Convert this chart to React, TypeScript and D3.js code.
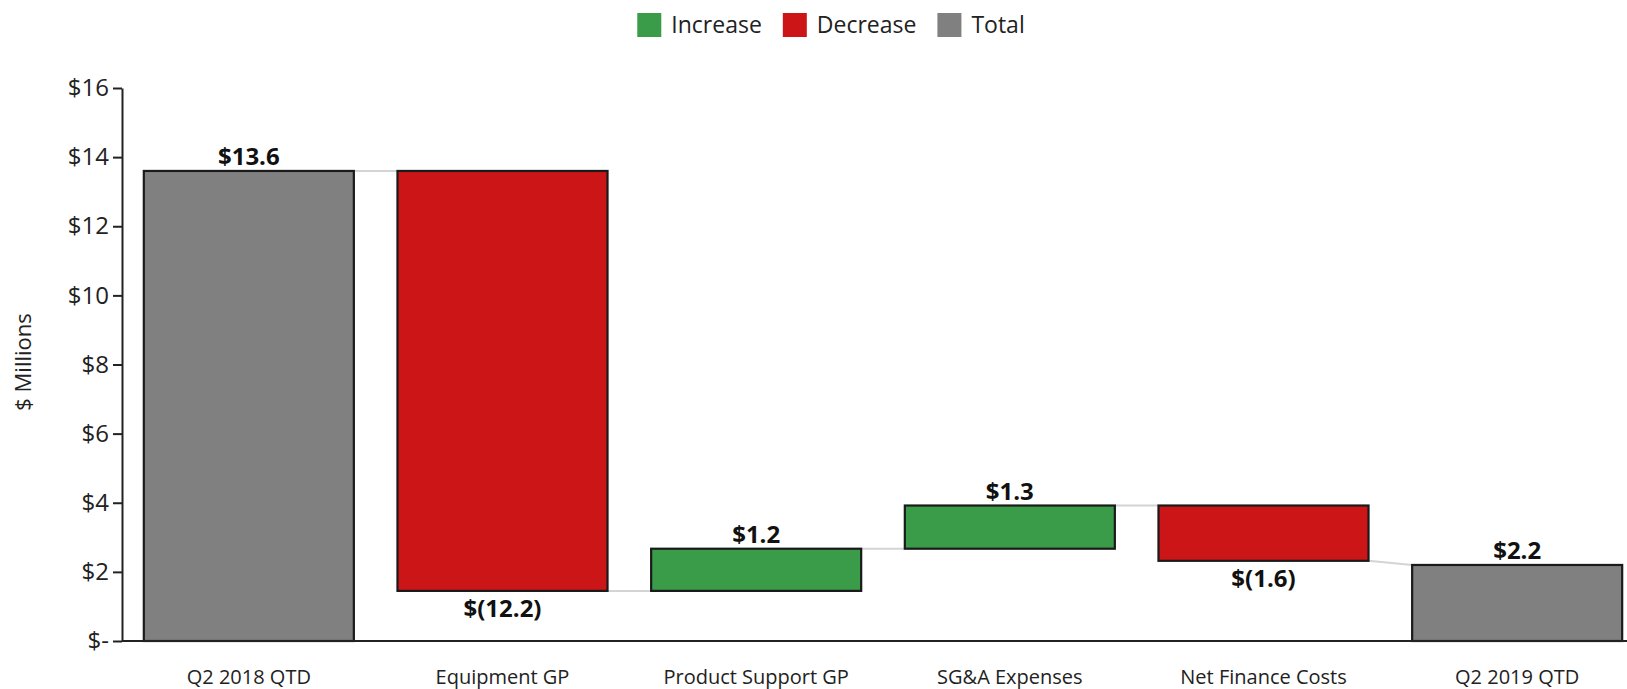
import React, { useEffect, useRef } from "react";
import * as d3 from "d3";

const categories = [
  "Q2 2018 QTD",
  "Equipment GP",
  "Product Support GP",
  "SG&A Expenses",
  "Net Finance Costs",
  "Q2 2019 QTD",
];
const values = [13.6, -12.15, 1.22, 1.25, -1.6, 2.2];
const kinds = ["total", "decrease", "increase", "increase", "decrease", "total"];
const valueLabels = ["$13.6", "$(12.2)", "$1.2", "$1.3", "$(1.6)", "$2.2"];
const yTicks = [0, 2, 4, 6, 8, 10, 12, 14, 16];
const legendNames = ["Increase", "Decrease", "Total"];
const legendKinds = ["increase", "decrease", "total"];

const colors: Record<string, string> = {
  increase: "#3a9c48",
  decrease: "#cc1517",
  total: "#808080",
};

const W = 1627;
const H = 689;
const FONT = "'Open Sans', 'DejaVu Sans', sans-serif";

export default function App() {
  const ref = useRef<SVGSVGElement | null>(null);

  useEffect(() => {
    const svg = d3.select(ref.current);
    svg.selectAll("*").remove();

    const left = 122;
    const top = 88;
    const bottom = 641;

    const x = d3
      .scaleBand<string>()
      .domain(categories)
      .range([left, 1644])
      .paddingInner(0.172)
      .paddingOuter(0.086);
    const y = d3.scaleLinear().domain([0, 16]).range([bottom, top]);

    let running = 0;
    const bars = categories.map((c, i) => {
      let start: number, end: number;
      if (kinds[i] === "total") {
        start = 0;
        end = values[i];
        running = values[i];
      } else {
        start = running;
        end = running + values[i];
        running = end;
      }
      return { c, i, start, end, kind: kinds[i], label: valueLabels[i] };
    });

    // connectors
    const conn = svg.append("g");
    for (let i = 0; i < bars.length - 1; i++) {
      const b = bars[i];
      const n = bars[i + 1];
      const nextLevel = n.kind === "total" ? n.end : n.start;
      conn
        .append("line")
        .attr("x1", (x(b.c) as number) + x.bandwidth())
        .attr("x2", x(n.c) as number)
        .attr("y1", y(b.end))
        .attr("y2", y(nextLevel))
        .attr("stroke", "#d4d4d4")
        .attr("stroke-width", 2);
    }

    // bars
    svg
      .append("g")
      .selectAll("rect")
      .data(bars)
      .join("rect")
      .attr("x", (d) => x(d.c) as number)
      .attr("width", x.bandwidth())
      .attr("y", (d) => y(Math.max(d.start, d.end)))
      .attr("height", (d) => Math.abs(y(d.start) - y(d.end)))
      .attr("fill", (d) => colors[d.kind])
      .attr("stroke", "#1a1a1a")
      .attr("stroke-width", 2.2);

    // value labels
    svg
      .append("g")
      .selectAll("text")
      .data(bars)
      .join("text")
      .attr("x", (d) => (x(d.c) as number) + x.bandwidth() / 2)
      .attr("y", (d) =>
        d.kind === "decrease" ? y(Math.min(d.start, d.end)) + 26 : y(Math.max(d.start, d.end)) - 6
      )
      .attr("text-anchor", "middle")
      .attr("font-family", FONT)
      .attr("font-weight", 700)
      .attr("font-size", 24)
      .attr("fill", "#111")
      .text((d) => d.label);

    // y axis
    const yAxis = d3
      .axisLeft(y)
      .tickValues(yTicks)
      .tickFormat((d) => (d === 0 ? "$-" : "$" + d))
      .tickSize(9)
      .tickSizeOuter(0)
      .tickPadding(4);
    const ya = svg.append("g").attr("transform", `translate(${left},0)`).call(yAxis);
    ya.select(".domain").attr("stroke", "#222").attr("stroke-width", 2);
    ya.selectAll(".tick line").attr("stroke", "#222").attr("stroke-width", 2);
    ya.selectAll(".tick text")
      .attr("font-family", FONT)
      .attr("font-size", 24)
      .attr("fill", "#222");

    // x axis baseline
    svg
      .append("line")
      .attr("x1", left)
      .attr("x2", W)
      .attr("y1", y(0))
      .attr("y2", y(0))
      .attr("stroke", "#222")
      .attr("stroke-width", 2);

    // x labels
    svg
      .append("g")
      .selectAll("text")
      .data(categories)
      .join("text")
      .attr("x", (d) => (x(d) as number) + x.bandwidth() / 2)
      .attr("y", 684)
      .attr("text-anchor", "middle")
      .attr("font-family", FONT)
      .attr("font-size", 20)
      .attr("fill", "#222")
      .text((d) => d);

    // y title
    svg
      .append("text")
      .attr("transform", `translate(31,362) rotate(-90)`)
      .attr("text-anchor", "middle")
      .attr("font-family", FONT)
      .attr("font-size", 22)
      .attr("fill", "#222")
      .text("$ Millions");

    // legend
    const lg = svg.append("g");
    let cx = 0;
    legendNames.forEach((name, i) => {
      const g = lg.append("g").attr("transform", `translate(${cx},0)`);
      g.append("rect")
        .attr("x", 0)
        .attr("y", 13)
        .attr("width", 24)
        .attr("height", 24)
        .attr("fill", colors[legendKinds[i]]);
      const t = g
        .append("text")
        .attr("x", 34)
        .attr("y", 33)
        .attr("font-family", FONT)
        .attr("font-size", 23)
        .attr("fill", "#222")
        .text(name);
      const tw = (t.node() as SVGTextElement).getComputedTextLength();
      cx += 34 + tw + 21;
    });
    const totalW = cx - 21;
    lg.attr("transform", `translate(${(638 + 1024) / 2 - totalW / 2},0)`);
  }, []);

  return (
    <svg
      ref={ref}
      width={W}
      height={H}
      style={{ position: "absolute", left: 0, top: 0, background: "#fff" }}
    />
  );
}
